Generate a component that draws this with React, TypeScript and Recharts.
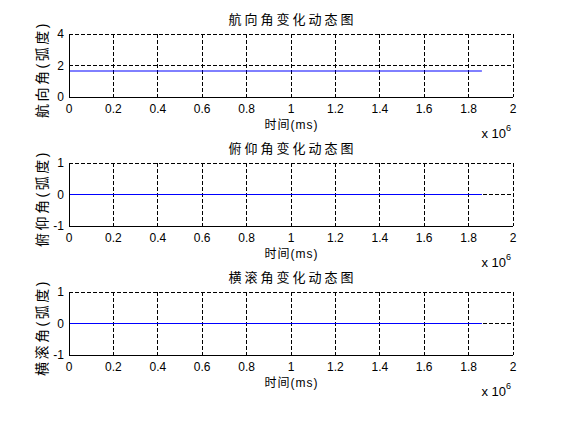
import React from 'react';
import { LineChart, Line, XAxis, YAxis, CartesianGrid } from 'recharts';

// ---- data ----
const timeMs = [0, 1860000];
const headingRad = [1.65, 1.65];
const pitchRad = [0, 0];
const rollRad = [0, 0];

const xTicks = [0, 200000, 400000, 600000, 800000, 1000000, 1200000, 1400000, 1600000, 1800000, 2000000];
const xTickLabels = ['0', '0.2', '0.4', '0.6', '0.8', '1', '1.2', '1.4', '1.6', '1.8', '2'];
const headingTicks = [0, 2, 4];
const attitudeTicks = [-1, 0, 1];

const titles = ['航向角变化动态图', '俯仰角变化动态图', '横滚角变化动态图'];
const yLabels = ['航向角(弧度)', '俯仰角(弧度)', '横滚角(弧度)'];
const xLabel = '时间(ms)';
const xExponent = '6';

const LATIN = '"Liberation Sans", Arial, Helvetica, sans-serif';
const CJK = '"Liberation Sans", "Noto Sans CJK SC", sans-serif';

const PLOT_TOP = 34;
const PLOT_H = 63;
const AXIS_H = 48;
const CHART_W = 565;

type SubProps = {
  title: string;
  yLabel: string;
  values: number[];
  yTicks: number[];
  top: number;
};

function SubPlot({ title, yLabel, values, yTicks, top }: SubProps) {
  const data = timeMs.map((t, i) => ({ t, v: values[i] }));
  const yDomain: [number, number] = [yTicks[0], yTicks[yTicks.length - 1]];

  const xLabelContent = (props: any) => {
    const vb = props.viewBox || {};
    const cx = vb.x + vb.width / 2;
    return (
      <g>
        <text
          x={cx + 1.5}
          y={vb.y - PLOT_H - 10}
          textAnchor="middle"
          fontSize={13}
          letterSpacing={3}
          fontFamily={CJK}
          fill="#000"
        >
          {title}
        </text>
        <text
          x={cx + 0.5}
          y={vb.y + 32}
          textAnchor="middle"
          fontSize={12}
          letterSpacing={1}
          fontFamily={CJK}
          fill="#000"
        >
          {xLabel}
        </text>
        <text x={vb.x + vb.width - 31.5} y={vb.y + 41} fontSize={13} fontFamily={LATIN} fill="#000">
          <tspan>x 10</tspan>
          <tspan dy={-7} fontSize={9}>{xExponent}</tspan>
        </text>
      </g>
    );
  };

  const yLabelContent = (props: any) => {
    const vb = props.viewBox || {};
    const cx = 41.5;
    const cy = vb.y + vb.height / 2 + 4;
    return (
      <text
        x={cx}
        y={cy}
        transform={`rotate(-90 ${cx} ${cy})`}
        textAnchor="middle"
        dominantBaseline="central"
        fontSize={14}
        letterSpacing={2.5}
        fontFamily={CJK}
        fill="#000"
      >
        {yLabel}
      </text>
    );
  };

  return (
    <div style={{ position: 'absolute', left: 0, top: top - PLOT_TOP, width: CHART_W, height: PLOT_TOP + PLOT_H + AXIS_H }}>
      <LineChart
        width={CHART_W}
        height={PLOT_TOP + PLOT_H + AXIS_H}
        data={data}
        margin={{ top: PLOT_TOP, right: 52, bottom: 0, left: 0 }}
        style={{ overflow: 'visible' }}
      >
        <CartesianGrid
          xAxisId="b"
          yAxisId="l"
          stroke="#000"
          strokeDasharray="4 2"
          shapeRendering="crispEdges"
        />
        <XAxis
          xAxisId="b"
          type="number"
          dataKey="t"
          domain={[0, 2000000]}
          ticks={xTicks}
          interval={0}
          tickFormatter={(v: number) => xTickLabels[xTicks.indexOf(v)]}
          tickLine={false}
          tickSize={0}
          tickMargin={7}
          axisLine={{ stroke: '#000', shapeRendering: 'crispEdges' }}
          tick={{ fill: '#000', fontSize: 12, fontFamily: LATIN }}
          height={AXIS_H}
          allowDataOverflow
          label={{ content: xLabelContent }}
        />
        <XAxis
          xAxisId="top"
          orientation="top"
          type="number"
          dataKey="t"
          domain={[0, 2000000]}
          ticks={xTicks}
          tick={false}
          tickLine={false}
          height={0}
          axisLine={{ stroke: '#000', shapeRendering: 'crispEdges' }}
          allowDataOverflow
        />
        <YAxis
          yAxisId="l"
          type="number"
          domain={yDomain}
          ticks={yTicks}
          interval={0}
          tickLine={false}
          tickSize={0}
          tickMargin={5}
          axisLine={{ stroke: '#000', shapeRendering: 'crispEdges' }}
          tick={{ fill: '#000', fontSize: 12, fontFamily: LATIN }}
          width={69}
          allowDataOverflow
          label={{ content: yLabelContent }}
        />
        <YAxis
          yAxisId="r"
          orientation="right"
          type="number"
          domain={yDomain}
          ticks={yTicks}
          tick={false}
          tickLine={false}
          width={0}
          axisLine={{ stroke: '#000', shapeRendering: 'crispEdges' }}
          allowDataOverflow
        />
        <Line
          xAxisId="b"
          yAxisId="l"
          type="linear"
          dataKey="v"
          stroke="#0000ff"
          strokeWidth={1}
          dot={false}
          activeDot={false}
          isAnimationActive={false}
        />
      </LineChart>
    </div>
  );
}

export default function App() {
  return (
    <div style={{ position: 'absolute', left: 0, top: 0, width: 565, height: 426, background: '#fff', overflow: 'hidden' }}>
      <SubPlot title={titles[0]} yLabel={yLabels[0]} values={headingRad} yTicks={headingTicks} top={34} />
      <SubPlot title={titles[1]} yLabel={yLabels[1]} values={pitchRad} yTicks={attitudeTicks} top={163} />
      <SubPlot title={titles[2]} yLabel={yLabels[2]} values={rollRad} yTicks={attitudeTicks} top={292} />
    </div>
  );
}
